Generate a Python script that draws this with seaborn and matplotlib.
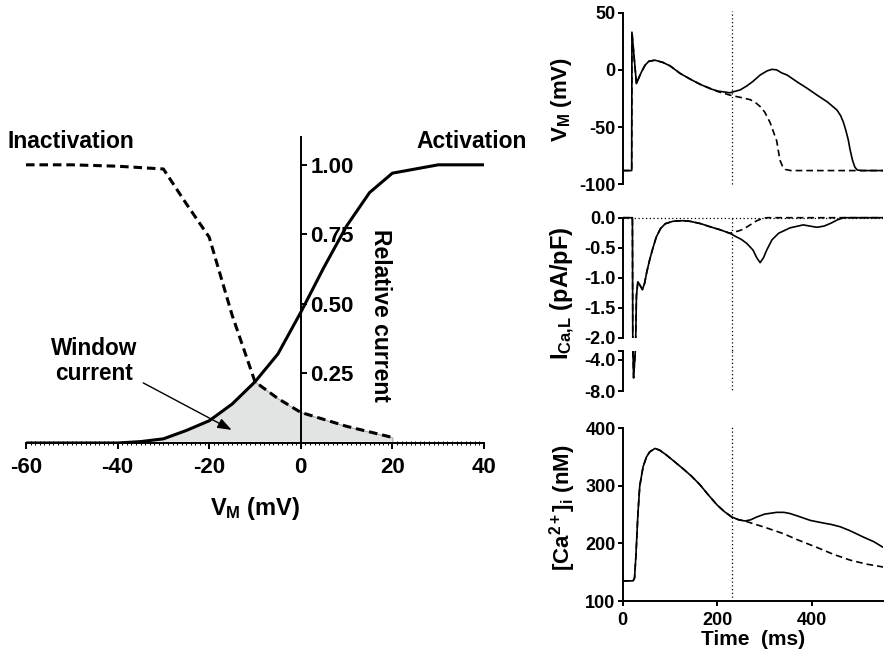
"""
Gating curves of the L-type Ca current with the window current,
next to action potential, I_CaL and Ca transient traces.
"""

import numpy as np
import matplotlib
matplotlib.use("Agg")
import matplotlib.pyplot as plt
from matplotlib.ticker import MultipleLocator, FormatStrFormatter
import seaborn as sns

nan = np.nan

# left panel: steady-state activation / inactivation
vm_mv = [-60, -50, -40, -35, -30, -25, -20, -15, -10, -5, 0, 5, 10, 15, 20, 30, 40]
activation = [0, 0, 0, 0.005, 0.015, 0.045, 0.08, 0.14, 0.22, 0.32, 0.47, 0.63, 0.78, 0.90, 0.97, 1.0, 1.0]
inactivation = [1.0, 1.0, 0.995, 0.99, 0.985, 0.86, 0.74, 0.46, 0.22, 0.16, 0.11, 0.085, 0.06, 0.04, 0.02, nan, nan]

# right panels: time courses (ms)
t_vm_ead = [0, 19, 19.5, 29, 35, 40, 47, 55, 68, 85, 100, 121, 140, 163, 185, 201, 226, 248,
            262, 275, 290, 305, 315, 325, 335, 347, 370, 389, 410, 432, 452, 460, 466, 471,
            476, 480, 485, 490, 495, 505, 550]
vm_ead = [-88, -88, 33, -12, -6, -1.5, 4, 7.5, 8.5, 6.5, 3.5, -3, -7.5, -12.5, -16.5, -18.5, -20, -17.5,
          -14, -10, -4.5, -0.8, 0.5, 0, -2.5, -4.5, -11, -16, -22, -28, -35, -40, -46, -53,
          -61, -70, -79, -85, -87.5, -88, -88]
t_vm_ctrl = [0, 19, 19.5, 29, 35, 40, 47, 55, 68, 85, 100, 121, 140, 163, 178, 201, 226, 248,
             269, 280, 290, 300, 311, 318, 325, 329, 332, 337, 343, 355, 550]
vm_ctrl = [-88, -88, 33, -12, -6, -1.5, 4, 7.5, 8.5, 6.5, 3.5, -3, -7.5, -12.5, -15, -19, -22, -24,
           -26, -28.5, -32, -37, -46, -54, -62, -72, -79, -84, -87, -88, -88]

t_ica_ead = [0, 20, 20.5, 23, 27.5, 29, 32, 36, 41.6, 46, 51, 57, 64, 71, 80, 90, 106, 125, 142,
             165, 184, 205, 226, 240, 250, 262, 275, 283, 290, 297, 304, 315, 329, 353, 381,
             395, 410, 425, 440, 452, 466, 550]
ica_ead = [0, 0, 0, -6.3, -2.0, -1.3, -1.07, -1.12, -1.2, -1.1, -0.9, -0.7, -0.5, -0.32, -0.18, -0.1,
           -0.06, -0.05, -0.06, -0.1, -0.15, -0.2, -0.26, -0.32, -0.36, -0.43, -0.54, -0.67, -0.75,
           -0.67, -0.54, -0.37, -0.26, -0.17, -0.12, -0.14, -0.16, -0.14, -0.09, -0.04, 0, 0]
t_ica_ctrl = [0, 20, 20.5, 23, 27.5, 29, 32, 36, 41.6, 46, 51, 57, 64, 71, 80, 90, 106, 125, 142,
              165, 184, 205, 226, 235, 245, 255, 269, 283, 296, 305, 550]
ica_ctrl = [0, 0, 0, -6.3, -2.0, -1.3, -1.07, -1.12, -1.2, -1.1, -0.9, -0.7, -0.5, -0.32, -0.18, -0.1,
            -0.06, -0.05, -0.06, -0.1, -0.15, -0.2, -0.26, -0.24, -0.22, -0.19, -0.12, -0.05, -0.01, 0, 0]

t_ca_ead = [0, 22, 25, 28, 32, 36, 43, 50, 57, 68, 78, 90, 105, 127, 145, 163, 180, 199, 215,
            230, 245, 258, 270, 283, 300, 325, 340, 353, 375, 396, 420, 440, 459, 480, 508, 530, 550]
ca_ead = [135, 135, 140, 180, 250, 300, 333, 350, 359, 365, 362, 355, 345, 330, 317, 302, 285, 267, 255,
          246, 241, 239, 241, 246, 251, 254, 254, 252, 246, 240, 236, 233, 229, 222, 211, 203, 193]
t_ca_ctrl = [0, 22, 25, 28, 32, 36, 43, 50, 57, 68, 78, 90, 105, 127, 145, 163, 180, 199, 215,
             230, 245, 258, 269, 300, 339, 370, 410, 445, 480, 515, 550]
ca_ctrl = [135, 135, 140, 180, 250, 300, 333, 350, 359, 365, 362, 355, 345, 330, 317, 302, 285, 267, 255,
           246, 241, 239, 236, 228, 217, 206, 193, 181, 171, 164, 159]

t_marker = 230

sns.set_style("ticks", {"axes.edgecolor": "black", "xtick.color": "black", "ytick.color": "black",
                        "text.color": "black", "axes.labelcolor": "black"})
plt.rcParams["font.family"] = ["Liberation Sans", "DejaVu Sans"]
plt.rcParams["font.weight"] = "bold"
plt.rcParams["axes.labelweight"] = "bold"
plt.rcParams["axes.unicode_minus"] = False
plt.rcParams["mathtext.fontset"] = "custom"
plt.rcParams["mathtext.rm"] = "Liberation Sans:bold"
plt.rcParams["mathtext.bf"] = "Liberation Sans:bold"
plt.rcParams["mathtext.it"] = "Liberation Sans:bold"
plt.rcParams["mathtext.default"] = "rm"

W, H = 886, 656
fig = plt.figure(figsize=(W / 100, H / 100), dpi=100)


def px_axes(x0, y0, x1, y1):
    return fig.add_axes([x0 / W, 1 - y1 / H, (x1 - x0) / W, (y1 - y0) / H])


def trace(ax, x, y, dashed=False, lw=1.2, dash=(4, 2.4)):
    ls = (0, dash) if dashed else "-"
    sns.lineplot(x=x, y=y, ax=ax, color="black", lw=lw, linestyle=ls,
                 estimator=None, sort=False, legend=False)


def dotted(ax, x, y, clip=True):
    ax.plot(x, y, color="black", lw=0.9, linestyle=(0, (1, 2)), clip_on=clip)


def style_right(ax):
    for s in ["top", "right", "bottom"]:
        ax.spines[s].set_visible(False)
    ax.spines["left"].set_linewidth(1.4)
    ax.tick_params(axis="y", length=3.6, width=1.4, labelsize=13, pad=1.5)
    ax.tick_params(axis="x", bottom=False, labelbottom=False)
    ax.set_xlim(0, 550)
    ax.set_xlabel("")
    ax.set_ylabel("")


# ---------------- left panel ----------------
ax = px_axes(26, 137, 484, 443)
win = np.minimum(np.array(activation), np.array(inactivation))
ax.fill_between(vm_mv, 0, win, color="#e2e4e4", edgecolor="#a8a8a8", lw=0.8, zorder=1)
trace(ax, vm_mv, activation, lw=2.2)
trace(ax, vm_mv, inactivation, dashed=True, lw=2.2, dash=(2.8, 1.6))

ax.set_xlim(-60, 40)
ax.set_ylim(0, 1.1)
ax.spines["left"].set_visible(False)
ax.spines["top"].set_visible(False)
ax.spines["right"].set_position(("data", 0))
ax.spines["right"].set_linewidth(1.4)
ax.spines["bottom"].set_linewidth(1.4)
ax.yaxis.tick_right()
ax.set_yticks([0.25, 0.5, 0.75, 1.0])
ax.yaxis.set_major_formatter(FormatStrFormatter("%.2f"))
ax.set_xticks(range(-60, 41, 20))
ax.xaxis.set_minor_locator(MultipleLocator(1))
ax.tick_params(axis="x", which="major", length=4, width=1.4, labelsize=16, pad=6)
ax.tick_params(axis="x", which="minor", length=2.5, width=0.7, direction="inout")
ax.tick_params(axis="y", length=4, width=1.4, labelsize=16, pad=3)
ax.set_ylabel("")
ax.set_xlabel("V$_{M}$ (mV)", fontsize=17, labelpad=12)

ax.text(-50.2, 1.083, "Inactivation", ha="center", va="center", fontsize=16.5)
ax.text(37.2, 1.083, "Activation", ha="center", va="center", fontsize=16.5)
ax.text(17.5, 0.46, "Relative current", ha="center", va="center", rotation=270, fontsize=16.5)
ax.text(-45.2, 0.295, "Window\ncurrent", ha="center", va="center", fontsize=16.3, linespacing=1.15)
ax.annotate("", xy=(-15.1, 0.047), xytext=(-34.4, 0.216),
            arrowprops=dict(arrowstyle="-|>,head_length=0.6,head_width=0.22", color="black",
                            lw=1.0, shrinkA=0, shrinkB=0, mutation_scale=14))

# ---------------- membrane potential ----------------
ax_v = px_axes(622.7, 12.7, 883.3, 184.3)
trace(ax_v, t_vm_ctrl, vm_ctrl, dashed=True)
trace(ax_v, t_vm_ead, vm_ead)
dotted(ax_v, [t_marker, t_marker], [-100, 51.5], clip=False)
style_right(ax_v)
ax_v.set_ylim(-100, 50)
ax_v.set_yticks([-100, -50, 0, 50])

# ---------------- I_CaL, broken axis ----------------
top_pad = 0.03
ax_i = px_axes(622.7, 217.7 - top_pad * 59.9, 883.3, 337.5)
dotted(ax_i, [0, 550], [0, 0])
trace(ax_i, t_ica_ctrl, ica_ctrl, dashed=True)
trace(ax_i, t_ica_ead, ica_ead)
dotted(ax_i, [t_marker, t_marker], [0, -2.22], clip=False)
style_right(ax_i)
ax_i.set_ylim(-2.0, top_pad)
ax_i.spines["left"].set_bounds(-2.0, 0)
ax_i.set_yticks([0, -0.5, -1.0, -1.5, -2.0])
ax_i.yaxis.set_major_formatter(FormatStrFormatter("%.1f"))

ax_lo = px_axes(622.7, 350.7, 883.3, 391)
trace(ax_lo, t_ica_ctrl, ica_ctrl, dashed=True)
trace(ax_lo, t_ica_ead, ica_ead)
dotted(ax_lo, [t_marker, t_marker], [-2.8, -8.0])
style_right(ax_lo)
ax_lo.set_ylim(-8.0, -2.8)
ax_lo.set_yticks([-8.0, -4.0, -2.8])
ax_lo.set_yticklabels(["-8.0", "-4.0", ""])

# ---------------- Ca transient ----------------
ax_c = px_axes(622.7, 428.3, 883.3, 601)
trace(ax_c, t_ca_ctrl, ca_ctrl, dashed=True)
trace(ax_c, t_ca_ead, ca_ead)
dotted(ax_c, [t_marker, t_marker], [100, 405], clip=False)
style_right(ax_c)
ax_c.spines["bottom"].set_visible(True)
ax_c.spines["bottom"].set_linewidth(1.4)
ax_c.tick_params(axis="x", bottom=True, labelbottom=True, length=3.6, width=1.4, labelsize=13, pad=4)
ax_c.set_ylim(100, 400)
ax_c.set_yticks([100, 200, 300, 400])
ax_c.set_xticks([0, 200, 400])
ax_c.set_xlabel("Time  (ms)", fontsize=15, labelpad=1)

# y labels of the right column
fig.text(562 / W, 1 - 99 / H, "V$_{M}$ (mV)", rotation=90, ha="center", va="center", fontsize=16)
fig.text(563 / W, 1 - 293 / H, "I$_{Ca{,}L}$ (pA/pF)", rotation=90, ha="center", va="center", fontsize=17)
fig.text(563 / W, 1 - 508 / H, "[Ca$^{2+}$]$_{i}$ (nM)", rotation=90, ha="center", va="center", fontsize=16)

fig.savefig("out.png", dpi=100)
plt.close(fig)
